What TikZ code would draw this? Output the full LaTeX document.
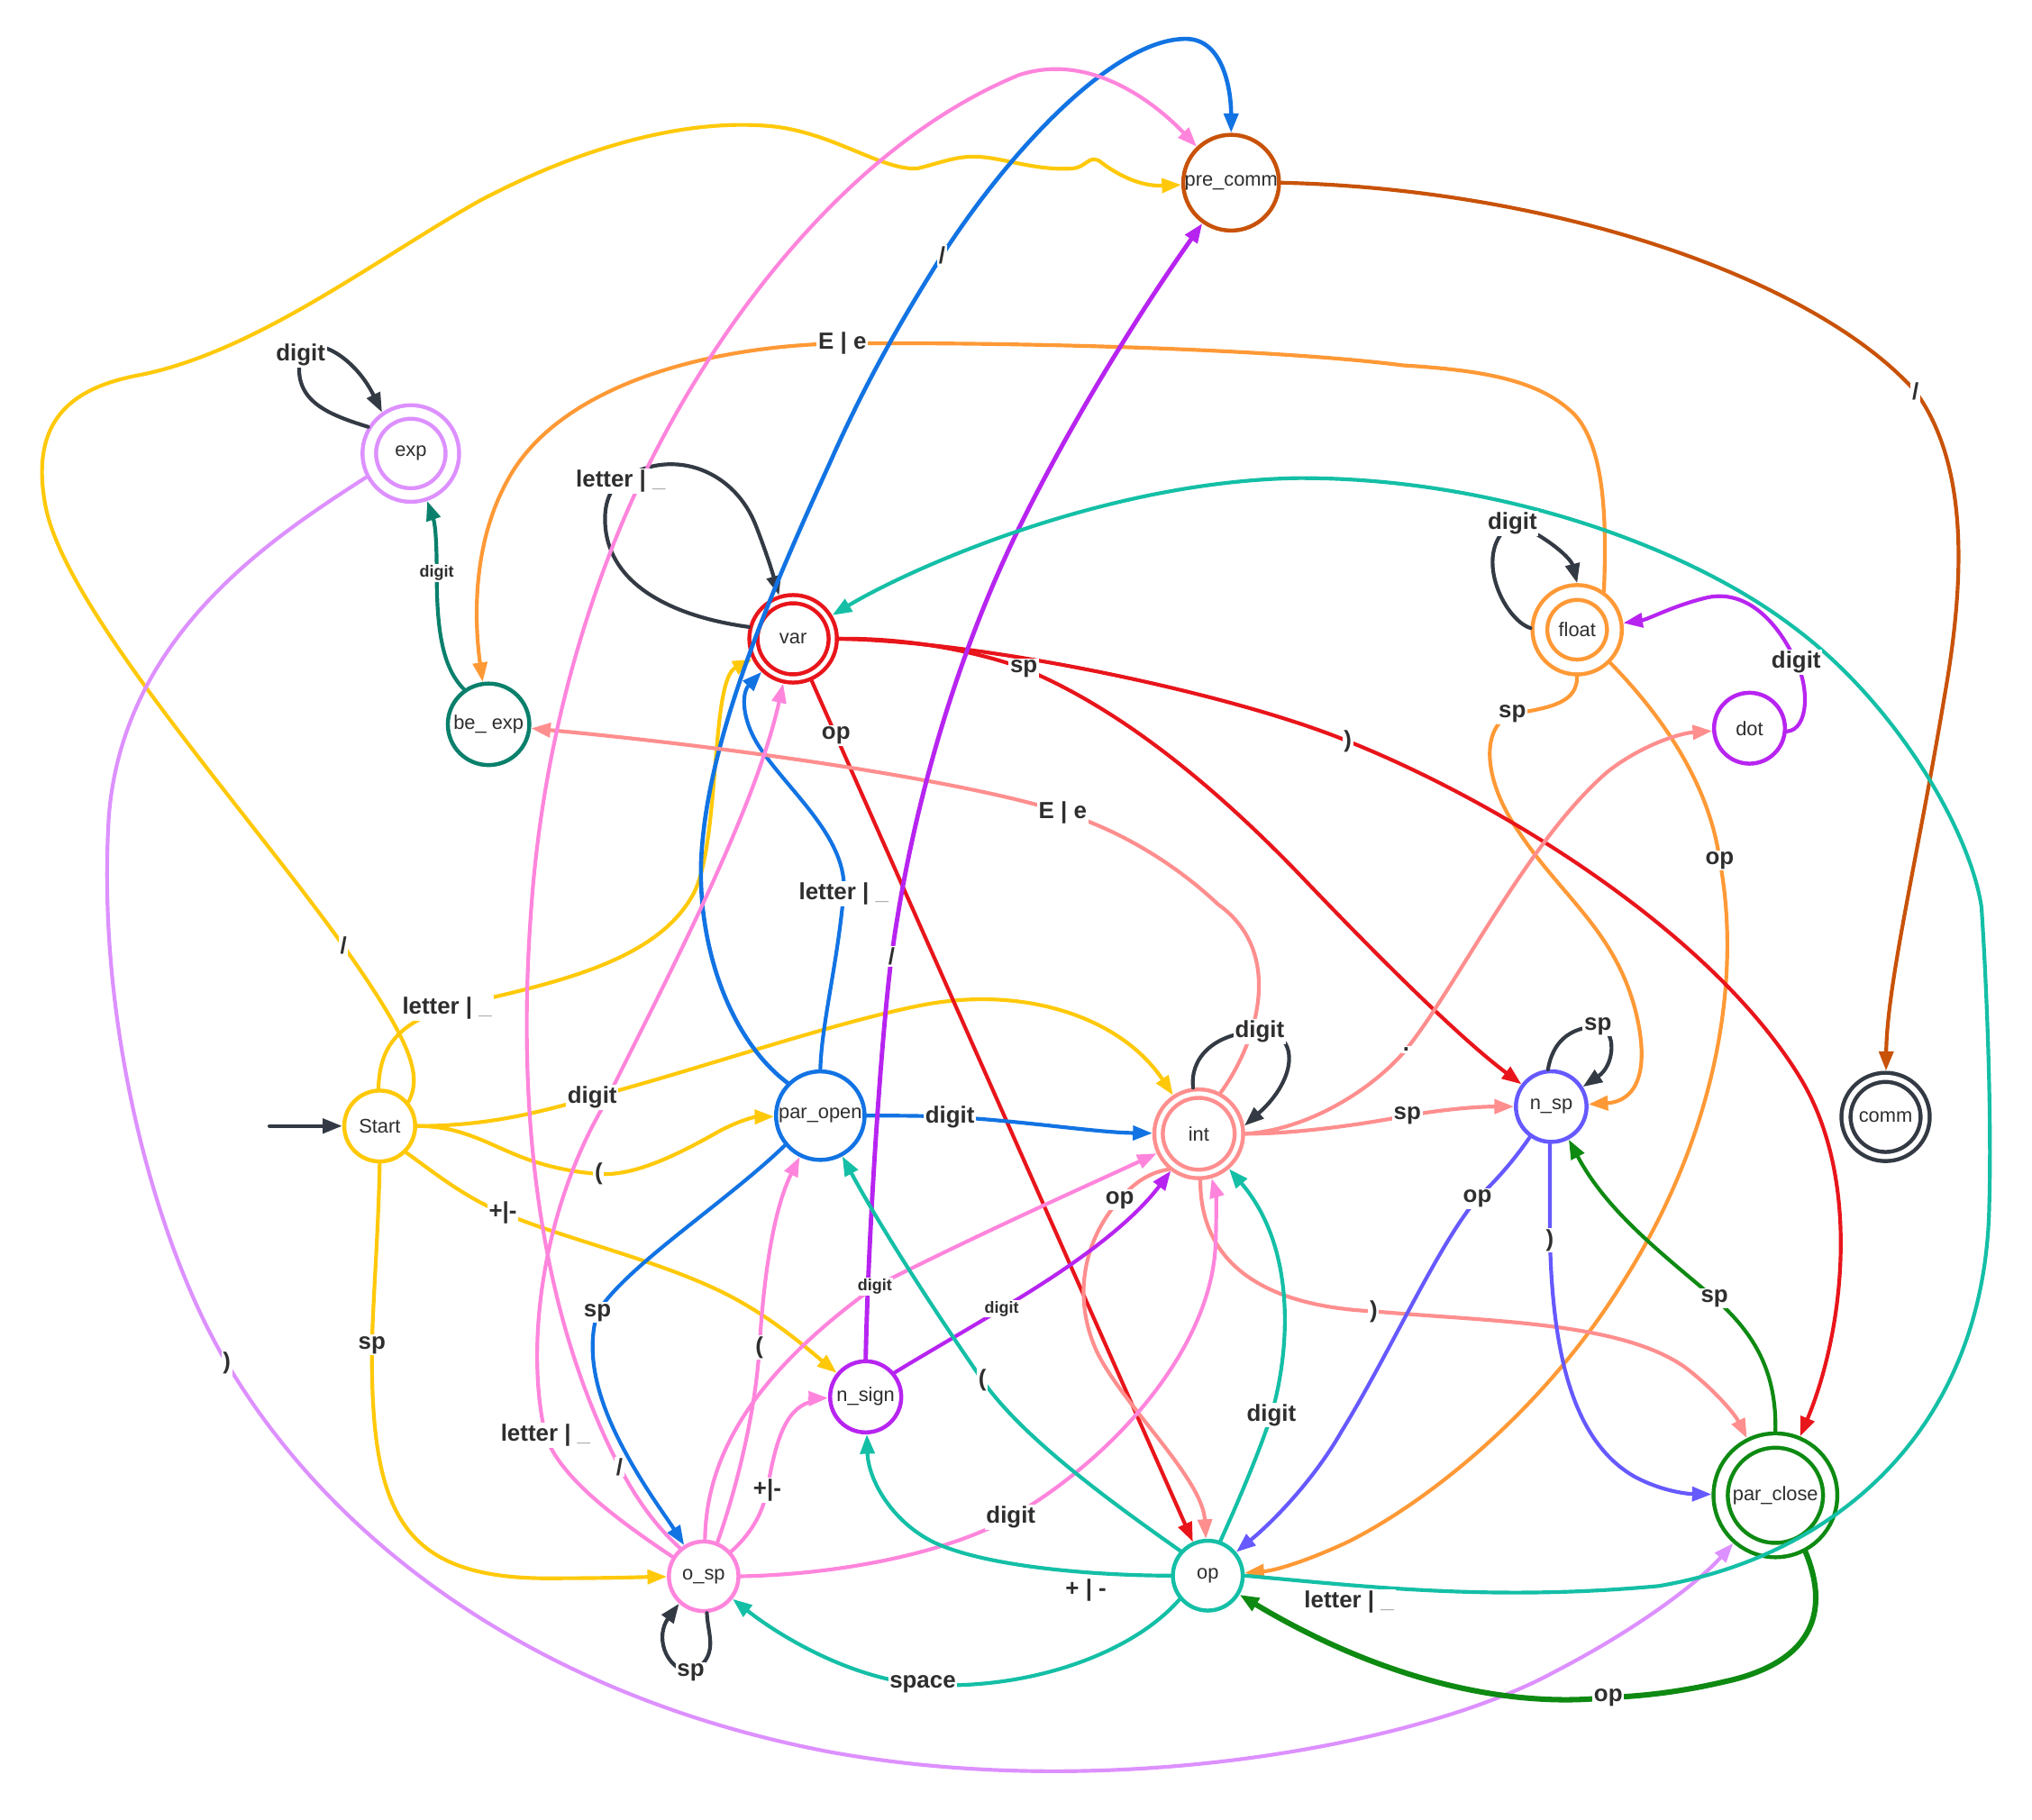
\documentclass[tikz,border=0pt]{standalone}
\usepackage{fontspec}
\setmainfont{Liberation Sans}
\usetikzlibrary{arrows.meta}
\definecolor{cY}{HTML}{FFC90A}
\definecolor{cPk}{HTML}{FF85DC}
\definecolor{cSa}{HTML}{FF8E8E}
\definecolor{cRd}{HTML}{E8151B}
\definecolor{cBl}{HTML}{1273E3}
\definecolor{cPu}{HTML}{B724F0}
\definecolor{cTl}{HTML}{14BFA6}
\definecolor{cDT}{HTML}{0A806C}
\definecolor{cLP}{HTML}{DD90FF}
\definecolor{cOr}{HTML}{FF9936}
\definecolor{cDO}{HTML}{C85208}
\definecolor{cVi}{HTML}{6659FF}
\definecolor{cGr}{HTML}{0E8A12}
\definecolor{cDk}{HTML}{333A44}
\definecolor{cTx}{HTML}{2E2E2E}
\newcommand\mystatefont{\fontsize{15.2}{16}\selectfont}
\newcommand\mylabelfont{\bfseries\fontsize{18}{19}\selectfont}
\newcommand\mysmallfont{\bfseries\fontsize{12.5}{13}\selectfont}
\newcommand\lu{letter | {\color{cTx!45}\_}}
\begin{document}
\begin{tikzpicture}[x=1pt,y=-1pt,
  st/.style={circle,draw,fill=white,line width=3.1pt,inner sep=0pt,font=\mystatefont,text=cTx},
  ac/.style={st,double=white,double distance=#1},
  trans/.style={line width=2.9pt,line cap=round,-{Triangle[length=15pt,width=11pt]}},
  lbl/.style={fill=white,inner sep=1.2pt,font=\mylabelfont,text=cTx},
  sml/.style={fill=white,inner sep=1pt,font=\mysmallfont,text=cTx}]
\useasboundingbox (0,0) rectangle (1568,1404);

% states
\node[st,draw=cDO,minimum size=73.9pt] (pre_comm) at (950,141) {pre\_comm};
\node[ac=7.3pt,draw=cLP,minimum size=64.1pt,outer sep=6.75pt] (exp) at (317,350) {exp};
\node[ac=3.2pt,draw=cRd,minimum size=61.2pt,outer sep=4.7pt] (var) at (612,493) {var};
\node[st,draw=cDT,minimum size=62.9pt] (be_exp) at (377,559) {be\_ exp};
\node[ac=8.3pt,draw=cOr,minimum size=57.5pt,outer sep=7.25pt] (float) at (1217,486) {float};
\node[st,draw=cPu,minimum size=54.7pt] (dot) at (1350,562) {dot};
\node[st,draw=cY,minimum size=54.7pt] (Start) at (293,869) {Start};
\node[st,draw=cBl,minimum size=68.3pt] (par_open) at (633,861) {par\_open};
\node[ac=3.4pt,draw=cSa,minimum size=62pt,outer sep=4.8pt] (int) at (925,875) {int};
\node[st,draw=cVi,minimum size=54.5pt] (n_sp) at (1197,854) {n\_sp};
\node[ac=3.9pt,draw=cDk,minimum size=61.1pt,outer sep=5.05pt] (comm) at (1455,862) {comm};
\node[st,draw=cPu,minimum size=54.9pt] (n_sign) at (668,1078) {n\_sign};
\node[st,draw=cPk,minimum size=53.7pt] (o_sp) at (543,1216.5) {o\_sp};
\node[st,draw=cTl,minimum size=53.9pt] (op) at (932,1216) {op};
\node[ac=7.9pt,draw=cGr,minimum size=84.5pt,outer sep=7.05pt] (par_close) at (1370,1154) {par\_close};

% initial arrow
\coordinate (init) at (208,869);
\draw[trans,cDk,line width=3.1pt] (init) -- (Start);

% from Start
\draw[trans,cY] (Start.40) .. controls (326,830) and (318,805) .. (265,730) coordinate (l01)
  .. controls (190,625) and (50,470) .. (35,390)
  .. controls (22,320) and (60,298) .. (110,289)
  .. controls (200,270) and (290,200) .. (370,155)
  .. controls (440,118) and (520,92) .. (590,97)
  .. controls (640,100) and (680,132) .. (708,130)
  .. controls (725,126) and (738,120) .. (755,121)
  .. controls (775,122) and (800,132) .. (828,130)
  .. controls (838,129) and (840,120) .. (848,124)
  .. controls (862,135) and (880,144) .. (pre_comm);
\draw[trans,cY] (Start.92) .. controls (293,815) and (300,792) .. (345,778) coordinate (l02)
  .. controls (420,760) and (505,745) .. (535,690)
  .. controls (556,650) and (548,525) .. (var);
\draw[trans,cY] (Start.east) .. controls (380,869) and (420,857) .. (457,847) coordinate (l03)
  .. controls (540,825) and (640,790) .. (710,776)
  .. controls (790,760) and (865,785) .. (int);
\draw[trans,cY] (Start.east) .. controls (355,869) and (375,882) .. (400,892)
  .. controls (425,902) and (448,905) .. (462,906) coordinate (l04)
  .. controls (490,908) and (525,890) .. (555,873)
  .. controls (570,865) and (582,862) .. (par_open);
\draw[trans,cY] (Start.-45) .. controls (335,905) and (360,925) .. (388,936) coordinate (l05)
  .. controls (440,958) and (520,975) .. (572,1005)
  .. controls (602,1022) and (628,1045) .. (n_sign);
\draw[trans,cY] (Start.south) .. controls (292,950) and (288,1000) .. (287,1038) coordinate (l06)
  .. controls (286,1170) and (310,1220) .. (430,1218)
  .. controls (470,1218) and (500,1217) .. (o_sp);

% from exp and be_exp
\draw[trans,cDk] (exp.148) .. controls (250,319) and (225,308) .. (232,274) coordinate (l07)
  .. controls (238,257) and (272,272) .. (exp.125);
\draw[trans,cLP] (exp.208) .. controls (210,415) and (95,490) .. (84,630)
  .. controls (74,790) and (120,960) .. (175,1052) coordinate (l08)
  .. controls (260,1195) and (420,1310) .. (640,1352)
  .. controls (860,1392) and (1100,1345) .. (1200,1290)
  .. controls (1262,1258) and (1310,1222) .. (par_close);
\draw[trans,cDT] (be_exp.125) .. controls (341,515) and (337,485) .. (337,442) coordinate (l09)
  .. controls (337,420) and (336,405) .. (exp);

% from float and dot
\draw[trans,cOr] (float.55) .. controls (1240,400) and (1238,345) .. (1215,320)
  .. controls (1190,295) and (1150,286) .. (1083,282)
  .. controls (990,270) and (800,264) .. (650,265) coordinate (l10)
  .. controls (540,267) and (430,300) .. (392,370)
  .. controls (364,420) and (366,480) .. (be_exp);
\draw[trans,cDk] (float.178) .. controls (1160,478) and (1135,425) .. (1167,404) coordinate (l28)
  .. controls (1188,410) and (1212,430) .. (float.90);
\draw[trans,cOr] (float.-90) .. controls (1217,542) and (1198,546) .. (1167,551) coordinate (l29)
  .. controls (1143,560) and (1143,600) .. (1172,642)
  .. controls (1205,692) and (1246,718) .. (1262,780)
  .. controls (1274,828) and (1262,850) .. (n_sp);
\draw[trans,cOr] (float.-45) .. controls (1290,560) and (1320,612) .. (1327,664) coordinate (l30)
  .. controls (1345,760) and (1322,880) .. (1252,990)
  .. controls (1190,1090) and (1100,1160) .. (1040,1190)
  .. controls (1010,1204) and (985,1212) .. (op);
\draw[trans,cPu] (dot.-5) .. controls (1396,563) and (1396,530) .. (1386,511) coordinate (l31)
  .. controls (1372,480) and (1348,455) .. (1318,461)
  .. controls (1292,467) and (1272,478) .. (float);

% from var
\draw[trans,cDk] (var.165) .. controls (520,476) and (470,452) .. (467,405)
  .. controls (466,390) and (470,378) .. (479,371) coordinate (l11)
  .. controls (515,345) and (565,360) .. (583,405)
  .. controls (592,428) and (597,445) .. (var.108);
\draw[trans,cRd] (var) -- coordinate[pos=0.064] (l12) (op);
\draw[trans,cRd] (var.east) .. controls (700,492) and (755,503) .. (790,516) coordinate (l13)
  .. controls (860,545) and (930,600) .. (1000,672)
  .. controls (1060,735) and (1125,800) .. (n_sp);
\draw[trans,cRd] (var.east) .. controls (760,495) and (950,535) .. (1040,572) coordinate (l14)
  .. controls (1160,620) and (1320,720) .. (1388,830)
  .. controls (1438,910) and (1422,1030) .. (par_close);

% from par_open
\draw[trans,cBl] (par_open.north) .. controls (634,790) and (646,745) .. (651,690) coordinate (l15)
  .. controls (655,648) and (610,612) .. (587,578)
  .. controls (572,556) and (572,535) .. (var);
\draw[trans,cBl,line width=3.2pt] (par_open.135) .. controls (560,800) and (535,720) .. (542,650)
  .. controls (550,560) and (598,450) .. (640,358)
  .. controls (670,290) and (700,240) .. (727,197) coordinate (l16)
  .. controls (780,115) and (860,30) .. (915,30)
  .. controls (945,30) and (950,72) .. (pre_comm.north);
\draw[trans,cBl] (par_open.east) .. controls (690,861) and (712,861) .. (733,862) coordinate (l17)
  .. controls (790,865) and (845,874) .. (int);
\draw[trans,cBl] (par_open.-140) .. controls (560,928) and (482,978) .. (461,1013) coordinate (l18)
  .. controls (450,1050) and (465,1090) .. (486,1127)
  .. controls (500,1152) and (515,1172) .. (o_sp);

% from int
\draw[trans,cDk] (int.97) .. controls (918,818) and (935,797) .. (972,796) coordinate (l19)
  .. controls (1003,796) and (1002,832) .. (int.10);
\draw[trans,cSa] (int.62) .. controls (970,805) and (992,735) .. (940,698)
  .. controls (905,665) and (862,640) .. (820,627) coordinate (l20)
  .. controls (760,607) and (600,580) .. (be_exp);
\draw[trans,cSa] (int.east) .. controls (1010,872) and (1060,840) .. (1085,810) coordinate (l21)
  .. controls (1125,760) and (1178,650) .. (1240,596)
  .. controls (1265,576) and (1295,566) .. (dot);
\draw[trans,cSa] (int.east) .. controls (1000,875) and (1050,868) .. (1086,861) coordinate (l22)
  .. controls (1115,856) and (1140,854) .. (n_sp);
\draw[trans,cSa] (int.-130) .. controls (885,905) and (873,915) .. (864,926) coordinate (l23)
  .. controls (840,952) and (826,995) .. (845,1040)
  .. controls (862,1080) and (928,1140) .. (op);
\draw[trans,cSa] (int.-88) .. controls (926,975) and (975,1008) .. (1060,1012) coordinate (l24)
  .. controls (1150,1020) and (1250,1020) .. (1300,1055)
  .. controls (1320,1070) and (1338,1090) .. (par_close);

% from n_sp
\draw[trans,cDk] (n_sp.95) .. controls (1198,805) and (1210,793) .. (1233,792) coordinate (l25)
  .. controls (1248,795) and (1246,822) .. (n_sp.32);
\draw[trans,cVi] (n_sp.-125) .. controls (1165,900) and (1152,913) .. (1140,925) coordinate (l26)
  .. controls (1110,960) and (1072,1045) .. (1035,1105)
  .. controls (1015,1140) and (985,1172) .. (op);
\draw[trans,cVi] (n_sp.-92) .. controls (1196,915) and (1196,940) .. (1196,957) coordinate (l27)
  .. controls (1198,1040) and (1212,1112) .. (1262,1140)
  .. controls (1285,1152) and (1305,1153) .. (par_close);

% from pre_comm
\draw[trans,cDO] (pre_comm.east) .. controls (1200,146) and (1400,215) .. (1478,302) coordinate (l32)
  .. controls (1520,360) and (1516,450) .. (1500,540)
  .. controls (1480,660) and (1456,760) .. (comm);

% from n_sign
\draw[trans,cPu,line width=3.4pt] (n_sign.north) .. controls (670,950) and (680,800) .. (688,738) coordinate (l33)
  .. controls (704,620) and (740,500) .. (790,400)
  .. controls (830,320) and (880,240) .. (pre_comm);
\draw[trans,cPu] (n_sign.40) .. controls (712,1046) and (745,1027) .. (773,1010) coordinate (l34)
  .. controls (820,982) and (870,948) .. (int);

% from o_sp
\draw[trans,cDk] (o_sp.-85) .. controls (546,1262) and (556,1278) .. (533,1291) coordinate (l35)
  .. controls (512,1287) and (506,1262) .. (o_sp.-132);
\draw[trans,cPk] (o_sp.130) .. controls (505,1177) and (490,1155) .. (478,1132) coordinate (l36)
  .. controls (430,1040) and (395,900) .. (410,700)
  .. controls (420,560) and (460,440) .. (501,358)
  .. controls (560,240) and (660,110) .. (786,58)
  .. controls (840,40) and (890,78) .. (pre_comm);
\draw[trans,cPk] (o_sp.148) .. controls (475,1172) and (432,1140) .. (421,1108) coordinate (l37)
  .. controls (405,1040) and (418,935) .. (466,853)
  .. controls (512,760) and (582,628) .. (var);
\draw[trans,cPk] (o_sp.68) .. controls (568,1150) and (583,1090) .. (586,1040) coordinate (l38)
  .. controls (589,990) and (596,935) .. (par_open);
\draw[trans,cPk] (o_sp.42) .. controls (578,1185) and (588,1170) .. (592,1150) coordinate (l39)
  .. controls (598,1115) and (605,1088) .. (625,1082)
  .. controls (630,1080) and (635,1079) .. (n_sign);
\draw[trans,cPk] (o_sp.88) .. controls (545,1120) and (585,1058) .. (675,993) coordinate (l40)
  .. controls (760,950) and (850,910) .. (int);
\draw[trans,cPk] (o_sp.east) .. controls (650,1215) and (732,1198) .. (780,1171) coordinate (l41)
  .. controls (860,1125) and (935,1040) .. (938,960)
  .. controls (939,935) and (938,920) .. (int);

% from op
\draw[trans,cTl] (op.east) .. controls (1050,1224) and (1150,1236) .. (1280,1224)
  .. controls (1420,1200) and (1532,1100) .. (1535,930)
  .. controls (1537,860) and (1533,760) .. (1529,700)
  .. controls (1520,640) and (1462,542) .. (1384,484)
  .. controls (1300,420) and (1150,368) .. (1000,369)
  .. controls (850,372) and (700,440) .. (var);
\coordinate (l47) at (1041,1236);
\draw[trans,cTl] (op.138) .. controls (870,1168) and (790,1112) .. (758,1065) coordinate (l42)
  .. controls (720,1010) and (680,948) .. (par_open);
\draw[trans,cTl] (op.west) .. controls (850,1216) and (762,1210) .. (720,1190)
  .. controls (688,1174) and (670,1142) .. (n_sign);
\coordinate (l48) at (838,1227);
\draw[trans,cTl] (op.-140) .. controls (872,1278) and (790,1305) .. (712,1300) coordinate (l43)
  .. controls (660,1296) and (606,1266) .. (o_sp);
\draw[trans,cTl] (op.70) .. controls (955,1160) and (972,1120) .. (981,1092) coordinate (l44)
  .. controls (996,1040) and (1000,962) .. (int);

% from par_close
\draw[trans,cGr] (par_close.north) .. controls (1371,1060) and (1355,1030) .. (1323,1002) coordinate (l45)
  .. controls (1282,967) and (1240,935) .. (n_sp);
\draw[trans,cGr,line width=4.2pt] (par_close.-62) .. controls (1410,1238) and (1405,1282) .. (1330,1298)
  .. controls (1300,1305) and (1270,1309) .. (1241,1310) coordinate (l46)
  .. controls (1170,1318) and (1072,1300) .. (op);

% transition labels
\node[lbl] (t01) at (l01) {/};
\node[lbl] (t02) at (l02) {\lu};
\node[lbl] (t03) at (l03) {digit};
\node[lbl] (t04) at (l04) {(};
\node[lbl] (t05) at (l05) {+|-};
\node[lbl] (t06) at (l06) {sp};
\node[lbl] (t07) at (l07) {digit};
\node[lbl] (t08) at (l08) {)};
\node[sml] (t09) at (l09) {digit};
\node[lbl] (t10) at (l10) {E | e};
\node[lbl] (t11) at (l11) {\lu};
\node[lbl] (t12) at (l12) {op};
\node[lbl] (t13) at (l13) {sp};
\node[lbl] (t14) at (l14) {)};
\node[lbl] (t15) at (l15) {\lu};
\node[lbl] (t16) at (l16) {/};
\node[lbl] (t17) at (l17) {digit};
\node[lbl] (t18) at (l18) {sp};
\node[lbl] (t19) at (l19) {digit};
\node[lbl] (t20) at (l20) {E | e};
\node[lbl] (t21) at (l21) {.};
\node[lbl] (t22) at (l22) {sp};
\node[lbl] (t23) at (l23) {op};
\node[lbl] (t24) at (l24) {)};
\node[lbl] (t25) at (l25) {sp};
\node[lbl] (t26) at (l26) {op};
\node[lbl] (t27) at (l27) {)};
\node[lbl] (t28) at (l28) {digit};
\node[lbl] (t29) at (l29) {sp};
\node[lbl] (t30) at (l30) {op};
\node[lbl] (t31) at (l31) {digit};
\node[lbl] (t32) at (l32) {/};
\node[lbl] (t33) at (l33) {/};
\node[sml] (t34) at (l34) {digit};
\node[lbl] (t35) at (l35) {sp};
\node[lbl] (t36) at (l36) {/};
\node[lbl] (t37) at (l37) {\lu};
\node[lbl] (t38) at (l38) {(};
\node[lbl] (t39) at (l39) {+|-};
\node[sml] (t40) at (l40) {digit};
\node[lbl] (t41) at (l41) {digit};
\node[lbl] (t42) at (l42) {(};
\node[lbl] (t43) at (l43) {space};
\node[lbl] (t44) at (l44) {digit};
\node[lbl] (t45) at (l45) {sp};
\node[lbl] (t46) at (l46) {op};
\node[lbl] (t47) at (l47) {\lu};
\node[lbl] (t48) at (l48) {+ | -};
\end{tikzpicture}
\end{document}
